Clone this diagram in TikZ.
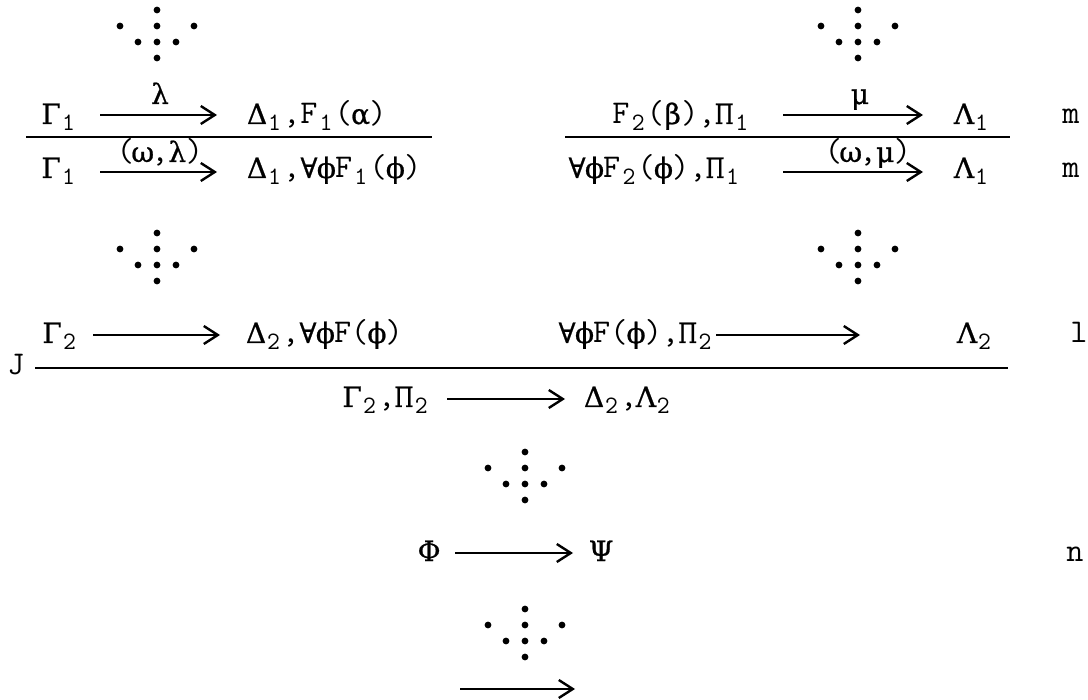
\documentclass[tikz,border=0pt]{standalone}
\usepackage{fontspec}
\usepackage{graphicx}
\newfontfamily\grk{DejaVu Serif}[FakeBold=0.8]
\usetikzlibrary{arrows.meta}
\newcommand\lo[1]{\makebox[8.7pt]{\raisebox{-3.5pt}{\fontsize{12.5}{12.5}\selectfont #1}}}
\newcommand\gk[1]{\makebox[8.7pt]{\fontsize{14}{14}\grk #1}}
\newcommand\gP{\makebox[8.7pt]{\scalebox{0.78}[1]{\fontsize{14}{14}\grk Π}}}
\tikzset{
  tw/.style={inner sep=0pt, anchor=base west,
    font=\fontsize{16.6}{19}\selectfont\ttfamily\addfontfeatures{FakeBold=2.4}},
  lab/.style={tw, anchor=base},
  arr/.style={line width=1.2pt, -{Straight Barb[length=7pt,width=9pt,line width=1.2pt]}},
  rulel/.style={line width=1.3pt},
  dotcluster/.pic={
    \foreach \dx/\dy in {0/0,-37/16,0/16,37/16,-19/32,0/32,19/32,0/48}
      \fill (\dx,\dy) circle[radius=1.7pt];
  }
}
\begin{document}
\begin{tikzpicture}[x=0.5pt,y=-0.5pt]
\useasboundingbox (0,0) rectangle (1088,700);
% dot clusters
\pic at (157,10) {dotcluster};
\pic at (858,10) {dotcluster};
\pic at (157,233) {dotcluster};
\pic at (858,233) {dotcluster};
\pic at (525,452) {dotcluster};
\pic at (525,609) {dotcluster};

% ---- upper left inference
\node[tw] (g1a) at (42,124) {\gk{Γ}\lo{1}};
\node[tw] (d1a) at (248,124) {\gk{Δ}\lo{1},F\lo{1}(\gk{α})};
\coordinate (a1s) at (100,115); \coordinate (a1e) at (217,115);
\draw[arr] (a1s) -- (a1e);
\node[lab] (lam) at (160,104) {\gk{λ}};
\coordinate (r1l) at (26,137); \coordinate (r1r) at (432,137);
\draw[rulel] (r1l) -- (r1r);
\node[tw] (g1b) at (42,178) {\gk{Γ}\lo{1}};
\node[tw] (d1b) at (248,178) {\gk{Δ}\lo{1},\gk{∀}\gk{ϕ}F\lo{1}(\gk{ϕ})};
\coordinate (a2s) at (100,172); \coordinate (a2e) at (217,172);
\draw[arr] (a2s) -- (a2e);
\node[lab] (wl) at (160,162) {(\gk{ω},\gk{λ})};

% ---- upper right inference
\node[tw] (f2a) at (612,124) {F\lo{2}(\gk{β}),\gP\lo{1}};
\node[tw] (l1a) at (955,124) {\gk{Λ}\lo{1}};
\coordinate (a3s) at (783,115); \coordinate (a3e) at (923,115);
\draw[arr] (a3s) -- (a3e);
\node[lab] (mu) at (860,104) {\gk{μ}};
\node[tw] (m1) at (1062,124) {m};
\coordinate (r2l) at (565,137); \coordinate (r2r) at (1010,137);
\draw[rulel] (r2l) -- (r2r);
\node[tw] (f2b) at (568,178) {\gk{∀}\gk{ϕ}F\lo{2}(\gk{ϕ}),\gP\lo{1}};
\node[tw] (l1b) at (955,178) {\gk{Λ}\lo{1}};
\coordinate (a4s) at (783,172); \coordinate (a4e) at (923,172);
\draw[arr] (a4s) -- (a4e);
\node[lab] (wm) at (868,162) {(\gk{ω},\gk{μ})};
\node[tw] (m2) at (1062,178) {m};

% ---- J inference
\node[tw] (g2) at (43,343) {\gk{Γ}\lo{2}};
\node[tw] (d2) at (247,343) {\gk{Δ}\lo{2},\gk{∀}\gk{ϕ}F(\gk{ϕ})};
\coordinate (a5s) at (93,335); \coordinate (a5e) at (220,335);
\draw[arr] (a5s) -- (a5e);
\node[tw] (fp) at (558,343) {\gk{∀}\gk{ϕ}F(\gk{ϕ}),\gP\lo{2}};
\node[tw] (l2) at (958,343) {\gk{Λ}\lo{2}};
\coordinate (a6s) at (716,335); \coordinate (a6e) at (860,335);
\draw[arr] (a6s) -- (a6e);
\node[tw] (lrule) at (1070,343) {l};
\node[tw] (J) at (7,375) {J};
\coordinate (r3l) at (35,368); \coordinate (r3r) at (1008,368);
\draw[rulel] (r3l) -- (r3r);
\node[tw] (gp) at (343,407) {\gk{Γ}\lo{2},\gP\lo{2}};
\node[tw] (dl) at (585,407) {\gk{Δ}\lo{2},\gk{Λ}\lo{2}};
\coordinate (a7s) at (447,399); \coordinate (a7e) at (565,399);
\draw[arr] (a7s) -- (a7e);

% ---- Phi -> Psi
\node[tw] (Phi) at (420,561) {\gk{Φ}};
\node[tw] (Psi) at (592,561) {\gk{Ψ}};
\coordinate (a8s) at (455,553); \coordinate (a8e) at (573,553);
\draw[arr] (a8s) -- (a8e);
\node[tw] (n) at (1066,561) {n};

% ---- final arrow
\coordinate (a9s) at (460,689); \coordinate (a9e) at (575,689);
\draw[arr] (a9s) -- (a9e);
\end{tikzpicture}
\end{document}
